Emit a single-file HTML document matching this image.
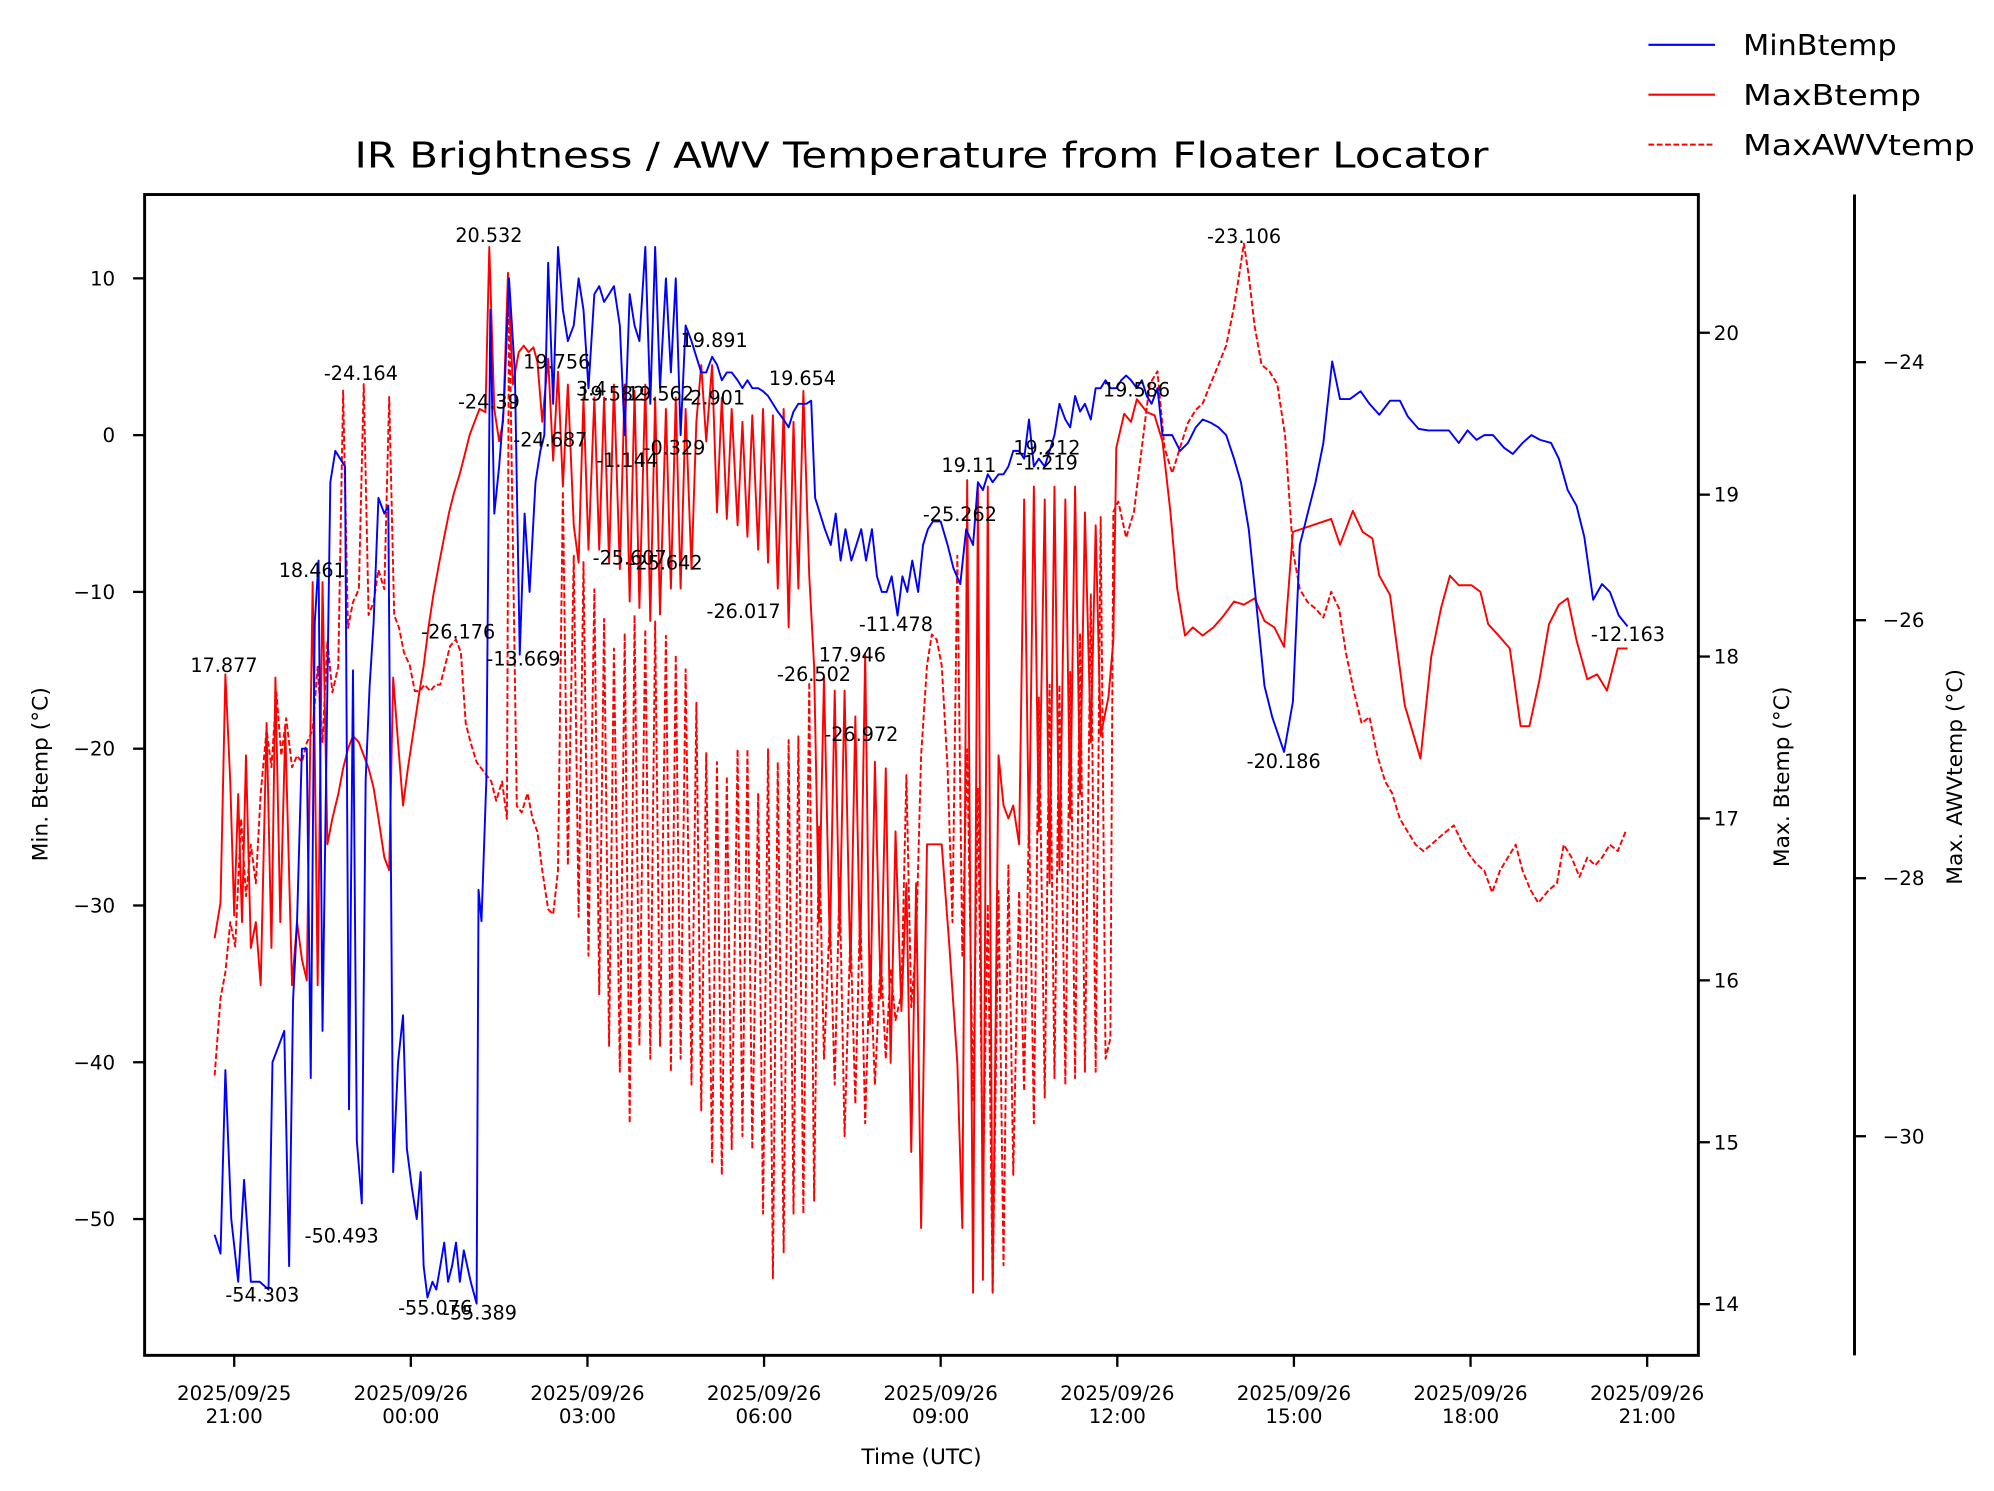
<!DOCTYPE html>
<html><head><meta charset="utf-8"><style>
html,body{margin:0;padding:0;background:#fff;}
svg{display:block;font-family:"DejaVu Sans","Liberation Sans",sans-serif;}
</style></head><body>
<svg id="chart" width="1994" height="1491" viewBox="0 0 1558 1165" preserveAspectRatio="none" xmlns="http://www.w3.org/2000/svg">
<rect x="0" y="0" width="1558" height="1165" fill="#fff"/>
<defs><clipPath id="clip"><rect x="113" y="152" width="1214" height="907"/></clipPath></defs>
<text x="720" y="131" font-size="28" text-anchor="middle" textLength="886" lengthAdjust="spacingAndGlyphs">IR Brightness / AWV Temperature from Floater Locator</text>
<g id="series" clip-path="url(#clip)"></g>
<g id="annots"></g>
<rect x="113" y="152" width="1214" height="907" fill="none" stroke="#000" stroke-width="2.3"/>
<line x1="1449" y1="152" x2="1449" y2="1059" stroke="#000" stroke-width="2.3"/>
<g id="axes"></g>
<text x="720" y="1144" font-size="17" text-anchor="middle">Time (UTC)</text>
<text transform="translate(37,605) rotate(-90)" font-size="17" text-anchor="middle">Min. Btemp (°C)</text>
<text transform="translate(1398,607) rotate(-90)" font-size="17" text-anchor="middle">Max. Btemp (°C)</text>
<text transform="translate(1533,607) rotate(-90)" font-size="17" text-anchor="middle">Max. AWVtemp (°C)</text>
<g>
<g><line x1="1288" y1="35" x2="1340" y2="35" stroke="#0000ff" stroke-width="1.6"/><text x="1362" y="43" font-size="22" textLength="120" lengthAdjust="spacingAndGlyphs">MinBtemp</text></g>
<g><line x1="1288" y1="74" x2="1340" y2="74" stroke="#ff0000" stroke-width="1.6"/><text x="1362" y="82" font-size="22" textLength="139" lengthAdjust="spacingAndGlyphs">MaxBtemp</text></g>
<g><line x1="1288" y1="113" x2="1340" y2="113" stroke="#ff0000" stroke-width="1.6" stroke-dasharray="4.5 2"/><text x="1362" y="121" font-size="22" textLength="181" lengthAdjust="spacingAndGlyphs">MaxAWVtemp</text></g>
</g>
</svg>
<script>
// minutes since 2025-09-25 21:00 UTC
const minTimes=[-20,-14,-9,-3,4,10,17,26,35,39,51,56,60,64,69,74,78,82,86,90,94,98,103,108,113,117,121,125,130,134,138,142,147,153,157,162,167,172,176,181,186,190,193,197,202,206,210,214,218,222,226,230,234,241,247,249,252,257,261,265,270,275,280,286,291,296,301,307,312,316,320,325,330,335,340,346,351,356,361,367,372,377,382,387,393,398,403,408,413,419,424,429,434,440,445,450,455,460,466,471,476,481,487,492,497,502,507,513,518,523,528,534,539,544,549,554,560,565,570,575,583,588,592,597,602,608,613,618,623,629,634,639,644,650,655,660,665,670,676,681,686,691,697,702,707,712,720,727,733,740,746,753,758,763,768,773,779,784,789,794,800,805,810,815,820,826,831,836,841,847,852,857,862,867,873,878,883,888,893,899,904,909,914,920,925,930,935,941,946,956,964,972,980,987,995,1003,1011,1019,1026,1034,1042,1050,1058,1070,1079,1086,1094,1102,1110,1119,1127,1137,1148,1157,1167,1178,1188,1196,1207,1217,1227,1238,1248,1257,1266,1274,1283,1294,1303,1313,1322,1331,1342,1350,1359,1368,1376,1385,1394,1402,1411,1420];
const minBtemp=[-51,-52.2,-40.5,-50,-54,-47.5,-54,-54,-54.5,-40,-38,-53,-36,-31,-20,-20,-41,-12,-8,-38,-20,-3,-1,-1.5,-2,-43,-15,-45,-49,-22,-16,-12,-4,-5,-4.5,-47,-40,-37,-45.5,-48,-50,-47,-53,-55,-54,-54.5,-53,-51.5,-54,-53,-51.5,-54,-52,-54,-55.4,-29,-31,-22,8,-5,-2,2,10,4,-14,-5,-10,-3,-1,0,11,2,12,8,6,7,10,8,3,9,9.5,8.5,9,9.5,7,0,9,7,6,12,2,12,3,10,4,10,0,7,6,5,4,4,5,4.5,3.5,4,4,3.5,3,3.5,3,3,2.8,2.5,2,1.5,1,0.5,1.5,2,2,2.2,-4,-5,-6,-7,-5,-8,-6,-8,-7,-6,-8,-6,-9,-10,-10,-9,-11.5,-9,-10,-8,-10,-7,-6,-5.5,-5.5,-7,-8.5,-9.5,-6,-7,-3,-3.5,-2.5,-3,-2.5,-2.5,-2,-1,-1,-1.5,1,-2,-1.5,-2,-1,0,2,1,0.5,2.5,1.5,2,1,3,3,3.5,3,3,3.5,3.8,3.5,3,3.5,2.5,2,3,0,0,-1,-0.5,0.5,1,0.8,0.5,0,-1.5,-3,-6,-11,-16,-18,-20.2,-17,-7,-5,-3,-0.5,4.7,2.3,2.3,2.8,2,1.3,2.2,2.2,1.2,0.4,0.3,0.3,0.3,-0.5,0.3,-0.3,0,0,-0.8,-1.2,-0.5,0,-0.3,-0.5,-1.5,-3.5,-4.5,-6.5,-10.5,-9.5,-10,-11.5,-12.2];

const maxTimes=[-20,-14,-9,-4,0,4,8,12,17,22,27,33,38,42,47,52,59,64,69,74,80,85,90,95,100,106,111,116,121,127,132,137,142,147,153,158,162,167,172,177,183,188,193,198,203,209,214,219,224,230,235,240,245,250,256,260,265,270,274,279,284,290,295,300,305,309,314,320,325,330,335,340,346,351,356,361,367,372,377,382,387,393,398,403,408,413,419,424,429,434,440,445,450,455,460,466,471,476,481,487,492,497,502,507,513,518,523,528,534,539,544,549,554,560,565,570,575,580,586,591,596,601,607,612,617,622,628,633,638,643,648,653,659,664,669,674,680,685,690,695,700,706,711,721,729,737,742,747,753,758,763,768,773,779,784,789,794,800,805,810,815,820,826,831,836,841,847,852,857,862,867,873,878,883,891,896,899,907,914,920,930,938,946,954,961,969,977,987,998,1008,1019,1029,1040,1050,1060,1070,1079,1118,1127,1140,1150,1160,1167,1178,1193,1209,1220,1230,1239,1248,1261,1270,1278,1290,1300,1311,1320,1330,1340,1350,1359,1368,1379,1389,1399,1410,1420];
const maxBtemp=[16.26,16.48,17.89,17.23,16.4,17.15,16.36,17.39,16.2,16.36,15.97,17.59,16.2,17.87,16.36,17.55,15.97,16.36,16.13,16.0,18.46,15.97,18.46,16.84,17.0,17.15,17.31,17.43,17.51,17.47,17.39,17.31,17.19,17.0,16.76,16.68,17.87,17.47,17.08,17.31,17.55,17.75,17.94,18.18,18.38,18.58,18.74,18.89,19.01,19.13,19.25,19.37,19.45,19.53,19.51,20.53,19.53,19.33,19.45,20.37,19.68,19.88,19.92,19.88,19.91,19.82,19.45,19.84,19.21,19.76,19.05,19.68,18.81,18.58,19.6,18.66,19.6,18.66,19.6,18.58,19.68,18.54,19.68,18.34,19.64,18.3,19.68,18.22,19.6,18.26,19.53,18.42,19.6,18.42,19.53,18.54,19.45,19.8,19.33,19.8,18.89,19.6,18.85,19.53,18.81,19.45,18.74,19.49,18.66,19.53,18.58,19.49,18.42,19.53,18.18,19.45,18.42,19.64,18.5,17.94,16.36,17.87,16.2,17.79,16.28,17.79,16.05,17.63,16.13,18.02,15.73,17.35,15.89,17.31,15.49,16.92,15.81,16.6,14.94,16.6,14.47,16.84,16.84,16.84,16.2,15.49,14.47,19.09,14.07,19.05,14.15,19.05,14.07,17.39,17.08,17.0,17.08,16.84,18.97,16.84,19.05,16.92,18.97,16.6,19.05,16.68,18.97,17.0,19.05,17.15,18.89,17.47,18.81,17.51,17.75,18.1,19.29,19.5,19.45,19.59,19.51,19.49,19.33,18.9,18.42,18.13,18.18,18.13,18.18,18.25,18.34,18.32,18.36,18.22,18.18,18.06,18.77,18.85,18.69,18.9,18.77,18.73,18.5,18.38,17.7,17.37,18.0,18.3,18.5,18.44,18.44,18.4,18.2,18.12,18.05,17.57,17.57,17.85,18.2,18.32,18.36,18.1,17.86,17.89,17.79,18.05,18.05];

const awvTimes=[-20,-14,-9,-4,1,7,12,17,22,27,33,38,43,48,53,59,64,69,74,80,85,90,95,100,106,111,116,121,127,132,137,142,147,153,158,163,168,173,179,184,189,194,200,205,210,215,220,226,231,236,241,247,252,257,262,267,273,278,280,288,293,299,304,309,314,320,325,330,335,340,346,351,356,361,367,372,377,382,387,393,398,403,408,413,419,424,429,434,440,445,450,455,460,466,471,476,481,487,492,497,502,507,513,518,523,528,534,539,544,549,554,560,565,570,575,580,586,591,596,601,607,612,617,622,628,633,638,643,648,653,659,664,669,674,680,685,690,695,700,706,711,716,721,727,732,737,742,747,753,758,763,768,773,779,784,789,794,800,805,810,815,820,826,831,836,841,847,852,857,862,867,873,878,883,888,893,896,901,909,917,925,933,941,948,956,964,972,980,987,995,1003,1011,1019,1024,1029,1034,1040,1047,1055,1063,1071,1079,1086,1094,1102,1110,1118,1126,1133,1141,1149,1157,1165,1173,1180,1188,1196,1204,1212,1220,1227,1235,1243,1251,1259,1266,1274,1282,1290,1298,1306,1313,1321,1329,1340,1348,1355,1363,1371,1379,1387,1394,1402,1410,1418];
const maxAWVtemp=[-29.53,-28.93,-28.73,-28.34,-28.53,-27.54,-28.14,-27.74,-28.04,-27.34,-26.85,-27.14,-26.56,-27.05,-26.76,-27.14,-27.05,-27.1,-26.95,-26.85,-26.36,-26.95,-26.16,-26.56,-26.36,-24.22,-26.06,-25.86,-25.76,-24.17,-25.96,-25.86,-25.61,-25.76,-24.27,-25.96,-26.06,-26.25,-26.35,-26.55,-26.55,-26.5,-26.55,-26.5,-26.5,-26.35,-26.2,-26.15,-26.25,-26.8,-26.95,-27.1,-27.15,-27.2,-27.25,-27.4,-27.25,-27.54,-23.4,-27.44,-27.49,-27.34,-27.54,-27.64,-27.94,-28.24,-28.28,-27.94,-25.0,-27.9,-25.5,-28.3,-25.55,-28.6,-25.76,-28.9,-25.99,-29.3,-26.22,-29.5,-26.1,-29.9,-25.96,-29.3,-26.07,-29.4,-26.01,-29.3,-26.12,-29.5,-26.27,-29.4,-26.38,-29.6,-26.64,-29.8,-27.03,-30.2,-27.1,-30.3,-27.21,-30.1,-27.0,-30.0,-27.0,-30.1,-27.34,-30.6,-27.0,-31.1,-27.1,-30.9,-26.93,-30.6,-26.9,-30.6,-26.48,-30.5,-27.6,-29.4,-28.3,-29.6,-28.0,-30.0,-28.4,-29.75,-28.2,-29.9,-28.6,-29.6,-28.6,-29.4,-28.7,-29.1,-28.9,-27.2,-29.0,-28.5,-27.05,-26.35,-26.11,-26.15,-26.35,-27.15,-28.34,-25.5,-28.6,-27.0,-29.72,-27.3,-30.42,-28.2,-31.2,-28.1,-31.0,-27.9,-30.3,-28.1,-29.65,-27.5,-29.9,-26.6,-29.7,-26.5,-29.55,-26.5,-29.6,-26.4,-29.55,-26.1,-29.5,-25.8,-29.5,-25.2,-29.4,-29.24,-25.16,-25.08,-25.36,-25.16,-24.66,-24.17,-24.07,-24.66,-24.86,-24.66,-24.47,-24.37,-24.32,-24.17,-24.02,-23.87,-23.57,-23.33,-23.08,-23.33,-23.72,-24.02,-24.07,-24.17,-24.57,-25.46,-25.76,-25.86,-25.91,-25.98,-25.78,-25.91,-26.25,-26.55,-26.8,-26.75,-27.05,-27.25,-27.34,-27.54,-27.64,-27.74,-27.79,-27.74,-27.69,-27.64,-27.59,-27.72,-27.82,-27.89,-27.94,-28.11,-27.94,-27.84,-27.74,-27.94,-28.09,-28.19,-28.09,-28.04,-27.74,-27.84,-27.99,-27.84,-27.9,-27.84,-27.74,-27.79,-27.64];

const xTickMinutes=[0,180,360,540,720,900,1080,1260,1440];
const xTickDates=["2025/09/25","2025/09/26","2025/09/26","2025/09/26","2025/09/26","2025/09/26","2025/09/26","2025/09/26","2025/09/26"];
const xTickTimes=["21:00","00:00","03:00","06:00","09:00","12:00","15:00","18:00","21:00"];
const leftTicks=[-50,-40,-30,-20,-10,0,10];
const rightTicks=[14,15,16,17,18,19,20];
const awvTicks=[-30,-28,-26,-24];
const annotTexts=["17.877","-54.303","18.461","-24.164","-50.493","-55.076","-55.389","-26.176","20.532","-24.39","-13.669","-24.687","19.756","3.4","19.582","19.562","-2.901","-1.144","-0.329","-25.607","-25.642","19.891","19.654","-26.017","-26.502","17.946","-26.972","-11.478","-25.262","19.11","19.212","-1.219","19.586","-23.106","-20.186","-12.163"];
const annotX=[175,205,244,282,267,340,375,358,382,382,409,430,435,462,478,516,558,490,527,492,520,558,627,581,636,666,673,700,750,757,818,818,888,972,1003,1272];
const annotY=[525,1017,451,297,971,1027,1031,499,189,319,520,349,288,309,313,313,316,365,355,441,445,271,301,483,532,517,579,493,407,369,355,367,310,190,600,501];

function xOf(m){return 183+m*46/60;}
function yLeft(v){return 340-v*12.25;}
function yRight(v){return 260-(v-20)*126.5;}
function yAwv(v){return 283-(v+24)*100.8;}
const NS="http://www.w3.org/2000/svg";
function mk(tag,attrs,parent){const e=document.createElementNS(NS,tag);for(const k in attrs)e.setAttribute(k,attrs[k]);parent.appendChild(e);return e;}

const series=document.getElementById('series');
function drawLine(times,vals,yf,color,dash,name){
  const pts=times.map((t,i)=>xOf(t).toFixed(1)+","+yf(vals[i]).toFixed(1)).join(" ");
  const a={points:pts,fill:"none",stroke:color,"stroke-width":"1.5","stroke-linejoin":"round"};
  if(dash)a["stroke-dasharray"]=dash;
  const p=mk('polyline',a,series);
  
  
}
drawLine(awvTimes,maxAWVtemp,yAwv,"#ff0000","4.5 2","maxawvtemp-line");
drawLine(maxTimes,maxBtemp,yRight,"#ff0000",null,"maxbtemp-line");
drawLine(minTimes,minBtemp,yLeft,"#0000ff",null,"minbtemp-line");

const axes=document.getElementById('axes');
xTickMinutes.forEach((m,i)=>{
  const x=xOf(m);
  const t=mk('line',{x1:x,y1:1059,x2:x,y2:1068,stroke:"#000","stroke-width":"1.8"},axes);
  
  
  const l=mk('text',{x:x,y:1094,"font-size":"15.5","text-anchor":"middle"},axes);
  
  
  mk('tspan',{x:x,dy:0},l).textContent=xTickDates[i];
  mk('tspan',{x:x,dy:"1.15em"},l).textContent=xTickTimes[i];
});
leftTicks.forEach(v=>{
  const y=yLeft(v);
  const t=mk('line',{x1:104,y1:y,x2:113,y2:y,stroke:"#000","stroke-width":"1.8"},axes);
  
  
  const l=mk('text',{x:90,y:y+5.5,"font-size":"15.5","text-anchor":"end"},axes);
  
  
  l.textContent=String(v).replace('-','\u2212');
});
rightTicks.forEach(v=>{
  const y=yRight(v);
  const t=mk('line',{x1:1327,y1:y,x2:1336,y2:y,stroke:"#000","stroke-width":"1.8"},axes);
  
  
  const l=mk('text',{x:1339,y:y+5.5,"font-size":"15.5"},axes);
  
  
  l.textContent=String(v);
});
awvTicks.forEach(v=>{
  const y=yAwv(v);
  const t=mk('line',{x1:1449,y1:y,x2:1458,y2:y,stroke:"#000","stroke-width":"1.8"},axes);
  
  
  const l=mk('text',{x:1471,y:y+5.5,"font-size":"15.5"},axes);
  
  
  l.textContent=String(v).replace('-','\u2212');
});
const annots=document.getElementById('annots');
annotTexts.forEach((s,i)=>{
  const l=mk('text',{x:annotX[i],y:annotY[i],"font-size":"15","text-anchor":"middle"},annots);
  
  
  l.textContent=s;
});
</script>
</body></html>
